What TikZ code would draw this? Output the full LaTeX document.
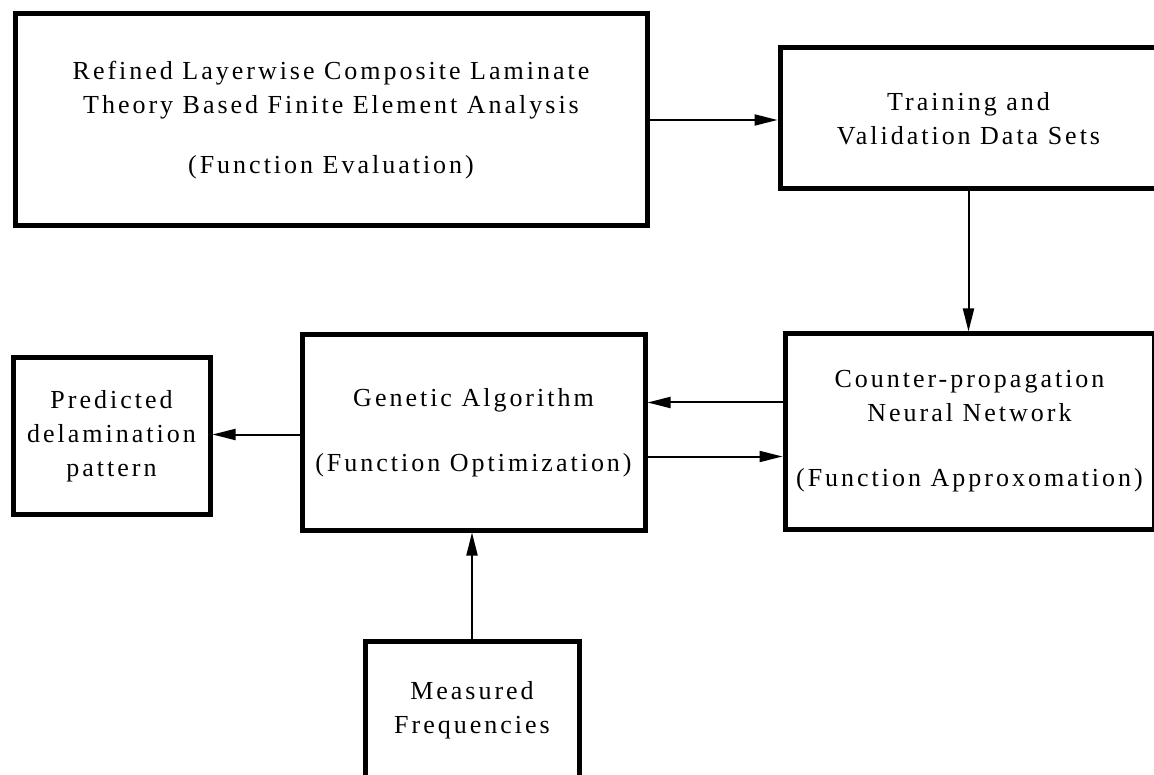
\documentclass[tikz,border=0pt]{standalone}
\usepackage{fontspec}
\usetikzlibrary{arrows.meta}
\newfontfamily\boxfont[LetterSpace=11.5]{Liberation Serif}

\tikzset{
  blk/.style={draw, rectangle, line width=5pt, inner sep=0pt, align=center,
              font={\boxfont\fontsize{26}{34}\selectfont}},
  flow/.style={line width=2pt, -{Triangle[length=23pt,width=11pt]}}
}

\begin{document}
\begin{tikzpicture}[x=1pt, y=-1pt]
  \useasboundingbox (0,0) rectangle (1154,775);
  \fill[white] (0,0) rectangle (1154,775);

  % processing blocks
  \node[blk, minimum width=632pt, minimum height=212pt] (fea) at (331,120)
    {Refined Layerwise Composite Laminate\\Theory Based Finite Element Analysis\\[26pt](Function Evaluation)};
  \node[blk, minimum width=377pt, minimum height=141pt] (data) at (968.5,118.5)
    {Training and\\Validation Data Sets};
  \node[blk, minimum width=369pt, minimum height=195pt] (cpnn) at (969.5,431.5)
    {Counter-propagation\\Neural Network\\[31pt](Function Approxomation)};
  \node[blk, minimum width=343pt, minimum height=195pt] (ga) at (473.5,432.5)
    {Genetic Algorithm\\[31pt](Function Optimization)};
  \node[blk, minimum width=197pt, minimum height=157pt] (pred) at (111.5,436)
    {Predicted\\delamination\\pattern};
  \node[blk, minimum width=214pt, minimum height=139pt] (meas) at (472,710.5)
    {Measured\\Frequencies};

  % data flow
  \draw[flow] (fea.east) -- (fea.east -| data.west);
  \draw[flow] (data.south) -- (data.south |- cpnn.north);
  \draw[flow] ([yshift=29pt]cpnn.west) -- ([yshift=29pt]cpnn.west -| ga.east);
  \draw[flow] ([yshift=-25pt]cpnn.west -| ga.east) -- ([yshift=-25pt]cpnn.west);
  \draw[flow] ([yshift=-2pt]ga.west) -- ([yshift=-2pt]ga.west -| pred.east);
  \draw[flow] (meas.north) -- (meas.north |- ga.south);
\end{tikzpicture}
\end{document}
